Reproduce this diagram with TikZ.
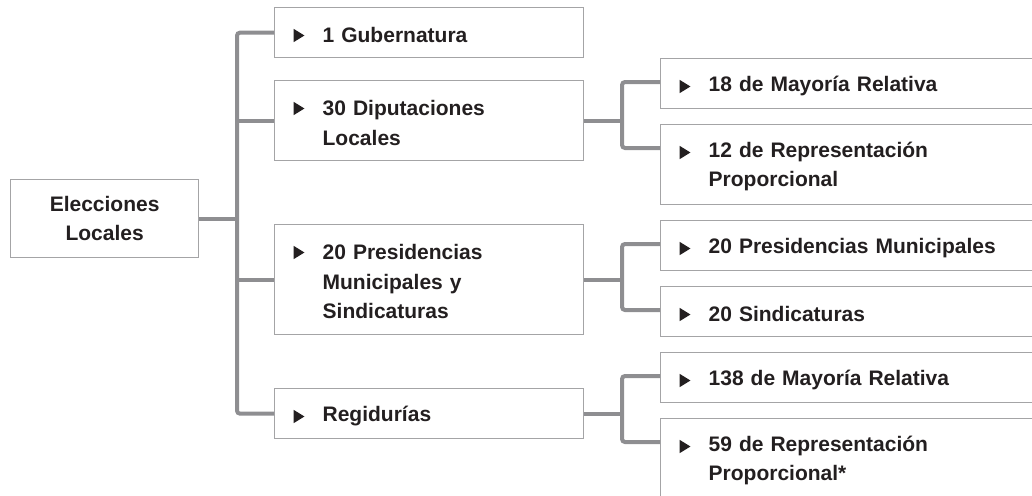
\documentclass[tikz,border=0pt]{standalone}
\usepackage{fontspec}
\setmainfont{Liberation Sans}
\usepackage{tikz}
\definecolor{ink}{HTML}{231F20}
\definecolor{linegray}{HTML}{8E8E91}
\definecolor{boxgray}{HTML}{A4A4A6}
\tikzset{
  box/.style={draw=boxgray, line width=1.3pt, rectangle, text=ink, inner ysep=0pt,
    font=\bfseries\fontsize{21}{29.5}\selectfont,
    execute at begin node={\rule{0pt}{19.5pt}}},
  itm/.style={box, anchor=north west, align=left, inner xsep=48pt,
    path picture={\fill[ink] ([xshift=19pt,yshift=-21.2pt]path picture bounding box.north west)
      -- ++(0pt,-13.3pt) -- ++(10.8pt,6.65pt) -- cycle;}},
  mainbox/.style={itm, text width=213pt, minimum width=309pt},
  subbox/.style={itm, text width=304pt, minimum width=400pt},
  conn/.style={draw=linegray, line width=4pt, rounded corners=3pt}
}
\begin{document}
\begin{tikzpicture}[x=1pt,y=-1pt]
\newcommand{\trunkx}{237}
\newcommand{\twig}{38}
\useasboundingbox (0,0) rectangle (1032,495);
\clip (0,0) rectangle (1032,495);

\node[box, align=center, anchor=north west, minimum width=188pt, minimum height=78pt] (root) at (10,179) {Elecciones\\Locales};

\node[mainbox, minimum height=50pt] (gub) at (274,7) {1 Gubernatura};
\node[mainbox, minimum height=80pt] (dip) at (274,80) {30 Diputaciones\\Locales};
\node[mainbox, minimum height=110pt] (pres) at (274,224) {20 Presidencias\\Municipales y\\Sindicaturas};
\node[mainbox, minimum height=50pt] (reg) at (274,388) {Regidurías};

\node[subbox, minimum height=50pt] (dmr) at (660,58) {18 de Mayoría Relativa};
\node[subbox, minimum height=80pt] (drp) at (660,124) {12 de Representación\\Proporcional};
\node[subbox, minimum height=50pt] (ppm) at (660,220) {20 Presidencias Municipales};
\node[subbox, minimum height=50pt] (psin) at (660,286) {20 Sindicaturas};
\node[subbox, minimum height=50pt] (rmr) at (660,352) {138 de Mayoría Relativa};
\node[subbox, minimum height=80pt] (rrp) at (660,418) {59 de Representación\\Proporcional*};

\coordinate (trunk) at (\trunkx,0);
\draw[conn] (gub.west) -- (gub.west -| trunk) |- (reg.west);
\draw[conn] (root.east) -- (root.east -| trunk);
\draw[conn] (dip.west) -- (dip.west -| trunk);
\draw[conn] (pres.west) -- (pres.west -| trunk);

\draw[conn] (dip.east) -- ++(\twig,0);
\draw[conn] ([yshift=-24pt]dmr.north west) -- ++(-\twig,0) |- ([yshift=-24pt]drp.north west);
\draw[conn] (pres.east) -- ++(\twig,0);
\draw[conn] ([yshift=-24pt]ppm.north west) -- ++(-\twig,0) |- ([yshift=-24pt]psin.north west);
\draw[conn] (reg.east) -- ++(\twig,0);
\draw[conn] ([yshift=-24pt]rmr.north west) -- ++(-\twig,0) |- ([yshift=-24pt]rrp.north west);
\end{tikzpicture}
\end{document}
